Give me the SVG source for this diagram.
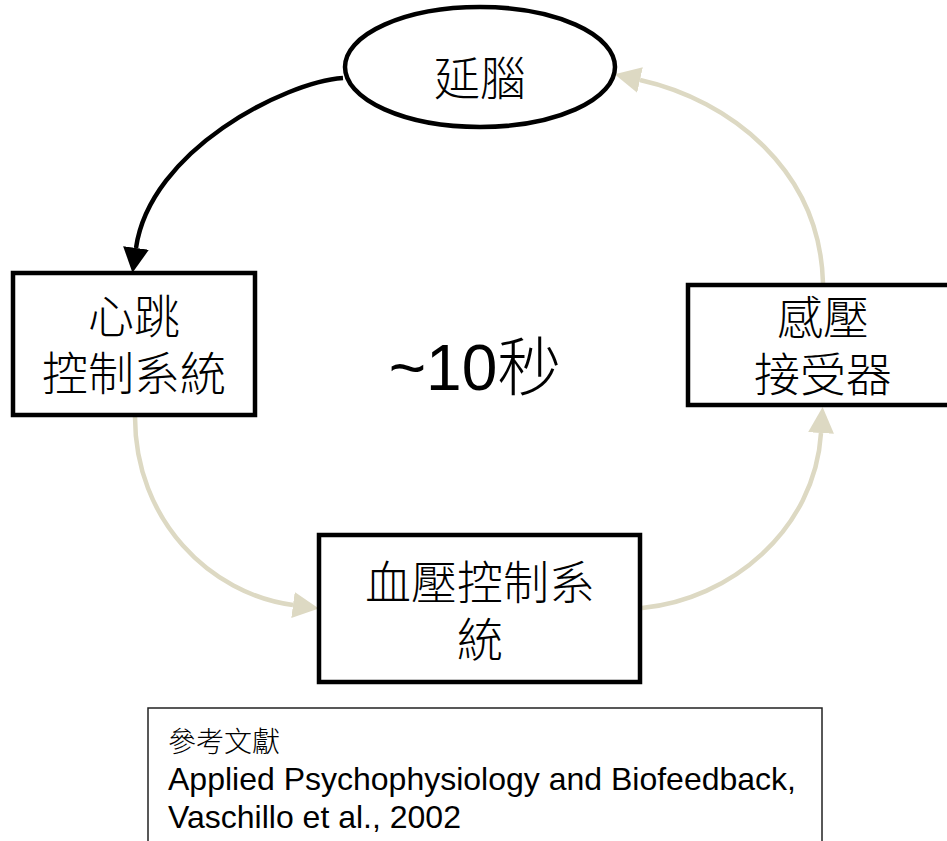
<svg xmlns="http://www.w3.org/2000/svg" width="947" height="841" viewBox="0 0 947 841">
  <style>
    .node { fill: #ffffff; stroke: #000000; stroke-width: 4.5; }
    .cjk { font-family: "Noto Sans CJK TC", "Noto Sans CJK SC", sans-serif; font-weight: 300; fill: #000000; }
    .mid { text-anchor: middle; }
    .label { font-size: 46px; }
    .link-dark { fill: none; stroke: #000000; stroke-width: 4.5; }
    .link-light { fill: none; stroke: #DDD9C3; stroke-width: 4.5; }
    .ref-box { fill: #ffffff; stroke: #222222; stroke-width: 1.5; }
    .ref-text { font-family: "Liberation Sans", "Noto Sans CJK TC", sans-serif; fill: #000000; }
  </style>
  <defs>
    <marker id="head-dark" markerUnits="userSpaceOnUse" markerWidth="26" markerHeight="26" refX="0" refY="13" orient="auto">
      <path d="M0,0 L25,13 L0,26 Z" fill="#000000"/>
    </marker>
    <marker id="head-light" markerUnits="userSpaceOnUse" markerWidth="28" markerHeight="26" refX="0" refY="13" orient="auto">
      <path d="M0,0 L26,13 L0,26 Z" fill="#DDD9C3"/>
    </marker>
  </defs>

  <rect width="947" height="841" fill="#ffffff"/>

  <!-- connectors -->
  <g id="connectors">
    <path class="link-dark" d="M343,78 C285,82 150,150 136,248" marker-end="url(#head-dark)"/>
    <path class="link-light" d="M135,417 C135,520 210,594 293,605" marker-end="url(#head-light)"/>
    <path class="link-light" d="M642,608 C730,600 815,530 821,433" marker-end="url(#head-light)"/>
    <path class="link-light" d="M823,283 C820,170 730,100 640,80" marker-end="url(#head-light)"/>
  </g>

  <!-- medulla -->
  <g id="medulla">
    <ellipse class="node" cx="480" cy="67" rx="135" ry="60"/>
    <text class="cjk mid label" x="480" y="95">延腦</text>
  </g>

  <!-- heart rate control -->
  <g id="heart-rate-control">
    <rect class="node" x="13" y="273" width="242" height="142"/>
    <text class="cjk mid label" x="134" y="333">心跳<tspan x="134" dy="57">控制系統</tspan></text>
  </g>

  <!-- baroreceptor -->
  <g id="baroreceptor">
    <rect class="node" x="688" y="285" width="272" height="120"/>
    <text class="cjk mid label" x="823" y="334">感壓<tspan x="823" dy="57">接受器</tspan></text>
  </g>

  <!-- blood pressure control -->
  <g id="blood-pressure-control">
    <rect class="node" x="319" y="535" width="321" height="147"/>
    <text class="cjk mid label" x="480" y="599">血壓控制系<tspan x="480" dy="57">統</tspan></text>
  </g>

  <!-- cycle duration -->
  <g id="cycle-time">
    <text x="475" y="390" text-anchor="middle" font-size="64" fill="#000000" font-family="Liberation Sans, Noto Sans CJK TC, sans-serif">~10<tspan font-family="Noto Sans CJK TC, sans-serif" font-weight="300">秒</tspan></text>
  </g>

  <!-- reference note -->
  <g id="reference">
    <rect class="ref-box" x="148" y="708" width="674" height="150"/>
    <text class="cjk" x="168" y="752" font-size="28">參考文獻</text>
    <text class="ref-text" x="168" y="790" font-size="32">Applied Psychophysiology and Biofeedback,</text>
    <text class="ref-text" x="168" y="828" font-size="32">Vaschillo et al., 2002</text>
  </g>
</svg>
